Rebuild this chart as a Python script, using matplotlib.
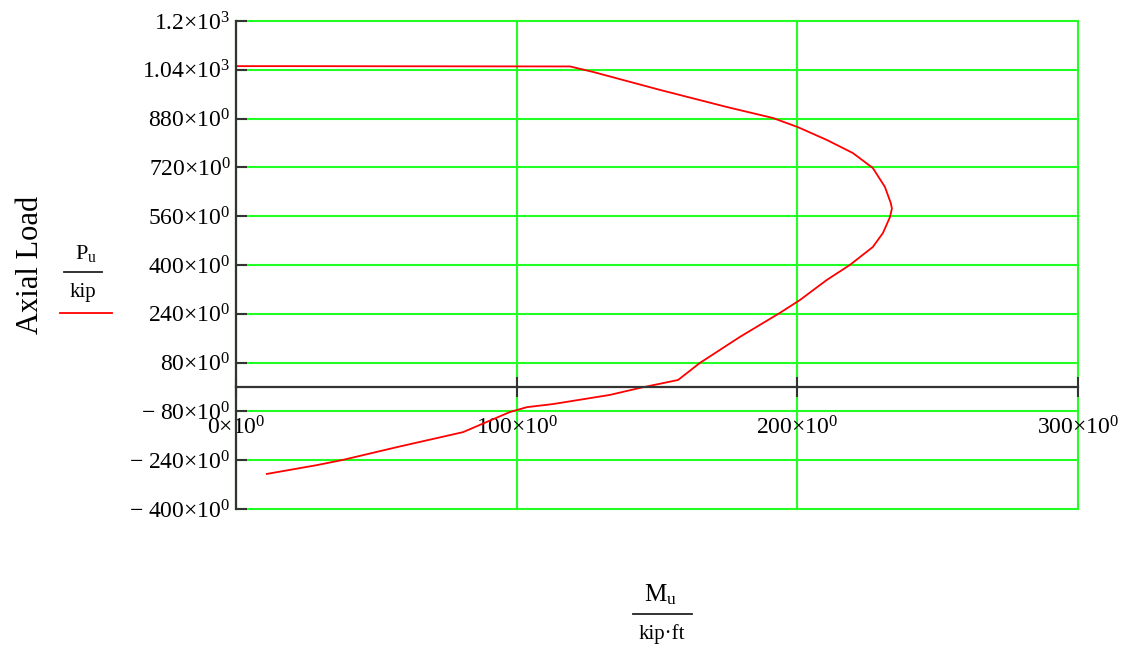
import numpy as np
import matplotlib.pyplot as plt
from matplotlib.lines import Line2D

plt.rcParams["font.family"] = "Liberation Serif"
plt.rcParams["mathtext.fontset"] = "custom"
plt.rcParams["mathtext.rm"] = "Liberation Serif"
plt.rcParams["mathtext.it"] = "Liberation Serif:italic"

# interaction diagram points (Mu in kip*ft, Pu in kip)
MOMENT = [0, 15, 119, 127.2, 151.1, 174.9, 191.3, 200.2, 210.5, 219.8,
          226.9, 231.2, 233.3, 233.7, 233.0, 230.5, 226.9, 218.7, 210.5,
          200.9, 193.8, 179.5, 165.3, 157.5, 143.9, 133.2, 112.9, 103.7,
          97.6, 80.9, 57.4, 38.1, 28.9, 11.0]
AXIAL = [1052, 1052, 1051, 1033, 974, 918, 882, 852, 810, 767,
         718, 656, 603, 585, 557, 505, 459, 400, 351,
         285, 243, 164, 79, 23, -3, -26, -56, -66,
         -82, -148, -197, -239, -256, -285]

X_TICKS = [0, 100, 200, 300]
X_LABELS = [r"$0{\times}10^{0}$", r"$100{\times}10^{0}$",
            r"$200{\times}10^{0}$", r"$300{\times}10^{0}$"]
Y_TICKS = [1200, 1040, 880, 720, 560, 400, 240, 80, -80, -240, -400]
Y_LABELS = [r"$1.2{\times}10^{3}$", r"$1.04{\times}10^{3}$",
            r"$880{\times}10^{0}$", r"$720{\times}10^{0}$",
            r"$560{\times}10^{0}$", r"$400{\times}10^{0}$",
            r"$240{\times}10^{0}$", r"$80{\times}10^{0}$",
            r"$-\ 80{\times}10^{0}$", r"$-\ 240{\times}10^{0}$",
            r"$-\ 400{\times}10^{0}$"]

W, H = 1134, 648


def fx(px):
    return px / W


def fy(py):
    return 1 - py / H


fig = plt.figure(figsize=(W / 100, H / 100), dpi=100)
ax = fig.add_axes([fx(236), fy(509), (1078 - 236) / W, (509 - 21) / H])

ax.plot(MOMENT, AXIAL, color="red", lw=1.3, zorder=3)

# move the x axis line to Pu = 0 before setting up ticks (this resets them)
for side in ["top", "right"]:
    ax.spines[side].set_visible(False)
ax.spines["bottom"].set_position(("data", 0))
for side in ["bottom", "left"]:
    ax.spines[side].set_color("#333333")
    ax.spines[side].set_linewidth(1.6)
    ax.spines[side].set_zorder(4)

ax.set_xlim(0, 300)
ax.set_ylim(-400, 1200)
ax.set_xticks(X_TICKS)
ax.set_xticklabels(X_LABELS)
ax.set_yticks(Y_TICKS)
ax.set_yticklabels(Y_LABELS)

ax.grid(True, color="#22ff22", lw=1.5, zorder=1)
ax.set_axisbelow(True)
for gl in ax.get_xgridlines() + ax.get_ygridlines():
    gl.set_clip_on(False)

ax.tick_params(axis="y", direction="in", length=8, width=1.5, color="#333333",
               pad=4, labelsize=17)
ax.tick_params(axis="x", direction="inout", length=14, width=1.5, color="#333333",
               pad=14, labelsize=17)

# axis titles, Mathcad style
fig.text(fx(30), fy(265), "Axial Load", rotation=90, fontsize=22,
         ha="center", va="center")
fig.text(fx(86), fy(254), r"$\mathrm{P}_{\mathrm{u}}$", fontsize=16,
         ha="center", va="center")
fig.add_artist(Line2D([fx(64), fx(102)], [fy(272)] * 2, color="#222222", lw=1.3))
fig.text(fx(83), fy(292), "kip", fontsize=15, ha="center", va="center")
fig.add_artist(Line2D([fx(60), fx(112)], [fy(313)] * 2, color="red", lw=1.3))

fig.text(fx(660), fy(595), r"$\mathrm{M}_{\mathrm{u}}$", fontsize=18,
         ha="center", va="center")
fig.add_artist(Line2D([fx(633), fx(692)], [fy(614)] * 2, color="#222222", lw=1.3))
fig.text(fx(662), fy(634), "kip\u00b7ft", fontsize=15, ha="center", va="center")

fig.savefig("out.png", dpi=100)
